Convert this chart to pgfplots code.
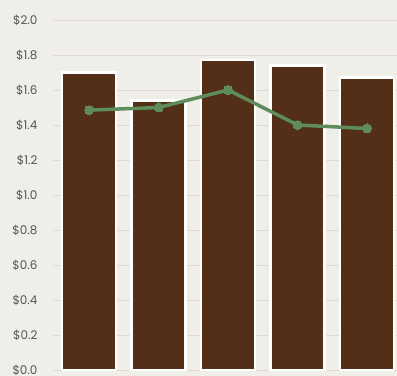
\documentclass[border=0pt]{standalone}
\usepackage{pgfplots}
\pgfplotsset{compat=1.18}
\usepackage{fontspec}
\setmainfont{Poppins}
\definecolor{bg}{HTML}{EFEEE9}
\definecolor{barc}{HTML}{532F17}
\definecolor{linec}{HTML}{5E8C5A}
\definecolor{gridc}{HTML}{DCDAD3}
\definecolor{labc}{HTML}{555555}
\begin{document}
\begin{tikzpicture}[x=1bp,y=1bp]
\fill[bg] (0,0) rectangle (397,376);
\useasboundingbox (0,0) rectangle (397,376);
\begin{axis}[
  at={(53bp,6bp)}, anchor=south west,
  scale only axis, width=344bp, height=350bp,
  xmin=-0.52, xmax=4.43, ymin=0, ymax=2.0,
  enlargelimits=false, clip=false,
  axis line style={draw=none},
  xtick=\empty,
  ytick={0,0.2,...,2.0},
  ymajorgrids, grid style={gridc, line width=0.8bp},
  major tick length=0pt,
  /pgf/number format/assume math mode=true,
  yticklabel={\$\pgfmathprintnumber[fixed,fixed zerofill,precision=1]{\tick}},
  yticklabel style={font=\fontsize{12}{14}\selectfont, text=labc, xshift=-12bp},
]
\addplot[ybar, bar width=54bp, fill=barc, draw=white, line width=2.5bp] coordinates {
  (0,1.70) (1,1.54) (2,1.77) (3,1.74) (4,1.67)
};
\addplot[linec, line width=3.5bp, mark=*, mark size=4.5bp, mark options={fill=linec, draw=linec, line width=0pt}] coordinates {
  (0,1.485) (1,1.50) (2,1.60) (3,1.40) (4,1.38)
};
\end{axis}
\end{tikzpicture}
\end{document}
